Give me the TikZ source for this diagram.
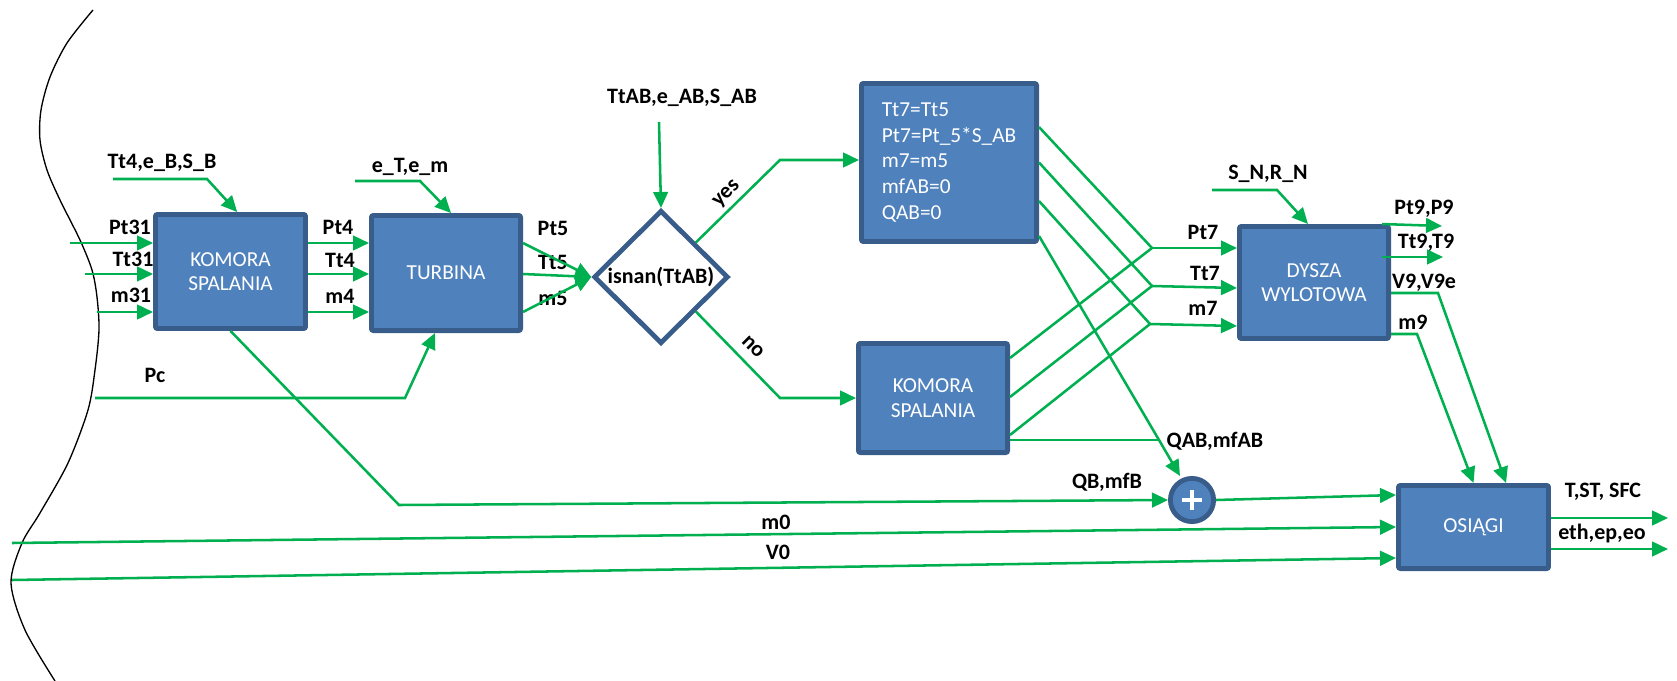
\documentclass[tikz,border=0pt]{standalone}
\usepackage{fontspec}
\setmainfont{Carlito}
\usetikzlibrary{arrows.meta,shapes.geometric}

\definecolor{boxfill}{HTML}{4F81BD}
\definecolor{boxedge}{HTML}{385D8A}
\definecolor{flowgreen}{HTML}{00B050}

\begin{document}
\begin{tikzpicture}[
  x=0.75pt,y=-0.75pt,
  block/.style={draw=boxedge,fill=boxfill,line width=3.6pt,rounded corners=1.5pt,
    text=white,font=\fontsize{16}{18.5}\selectfont,align=center,inner sep=0pt},
  cond/.style={diamond,draw=boxedge,fill=white,line width=3.6pt,aspect=1,inner sep=0pt,
    minimum width=101pt,minimum height=100pt,font=\fontsize{16.5}{19}\selectfont\bfseries},
  summer/.style={circle,draw=boxedge,fill=boxfill,line width=3.6pt,minimum size=32.4pt,inner sep=0pt},
  flow/.style={draw=flowgreen,line width=1.9pt,-{Triangle[length=12pt,width=11pt]}},
  link/.style={draw=flowgreen,line width=1.9pt},
  lbl/.style={font=\fontsize{16.5}{19}\selectfont\bfseries,inner sep=0pt},
  boundary/.style={line width=1pt}
]
  \useasboundingbox (0,0) rectangle (1677,681);

  % engine boundary
  \draw[boundary] plot[smooth] coordinates {(93,10) (67,43) (50,77) (41,110) (40,140)
    (47,170) (60,200) (80,240) (92,270) (97,297) (99,330) (95,370) (88,410) (68,463)
    (40,513) (22,543) (11,583) (25,630) (55,681)};

  % blocks
  \node[block,minimum width=112.6pt,minimum height=85.6pt] (kom1) at (230.5,271.5) {KOMORA\\SPALANIA};
  \node[block,minimum width=111.9pt,minimum height=86.4pt] (turb) at (446,273) {TURBINA};
  \node[cond] (dec) at (661,277) {isnan(TtAB)};
  \node[block,minimum width=131.4pt,minimum height=118.6pt,align=left,
    font=\fontsize{16}{19.2}\selectfont] (up) at (949,162.5)
    {Tt7=Tt5\\Pt7=Pt\_5*S\_AB\\m7=m5\\mfAB=0\\QAB=0};
  \node[block,minimum width=111.9pt,minimum height=81.9pt] (kom2) at (933,398) {KOMORA\\SPALANIA};
  \node[block,minimum width=111.9pt,minimum height=84.1pt] (dysza) at (1314,282.5) {DYSZA\\WYLOTOWA};
  \node[block,minimum width=112.6pt,minimum height=62.4pt] (osiagi) at (1473.5,527) {OSIĄGI};
  \node[summer] (plus) at (1192,500) {};
  \draw[white,line width=3pt] ([xshift=-7.5pt]plus.center) -- ([xshift=7.5pt]plus.center);
  \draw[white,line width=3pt] ([yshift=-7.5pt]plus.center) -- ([yshift=7.5pt]plus.center);

  % labels
  \node[lbl] (lPt31) at (130,227) {Pt31};
  \node[lbl] (lTt31) at (133,259) {Tt31};
  \node[lbl] (lm31) at (131,295) {m31};
  \node[lbl] (lInB) at (162,163) {Tt4,e\_B,S\_B};
  \node[lbl] (lPt4) at (338,227) {Pt4};
  \node[lbl] (lTt4) at (340,260) {Tt4};
  \node[lbl] (lm4) at (340,296) {m4};
  \node[lbl] (lInT) at (410,167) {e\_T,e\_m};
  \node[lbl] (lPc) at (155,375) {Pc};
  \node[lbl] (lPt5) at (553,228) {Pt5};
  \node[lbl] (lTt5) at (553,262) {Tt5};
  \node[lbl] (lm5) at (553,298) {m5};
  \node[lbl] (lInAB) at (682,98) {TtAB,e\_AB,S\_AB};
  \node[lbl,rotate=45] (lyes) at (727,194) {yes};
  \node[lbl,rotate=-45] (lno) at (753,347) {no};
  \node[lbl] (lPt7) at (1203,232) {Pt7};
  \node[lbl] (lTt7) at (1205,273) {Tt7};
  \node[lbl] (lm7) at (1203,308) {m7};
  \node[lbl] (lInN) at (1268,174) {S\_N,R\_N};
  \node[lbl] (lPt9) at (1424,209) {Pt9,P9};
  \node[lbl] (lTt9) at (1426,243) {Tt9,T9};
  \node[lbl] (lV9) at (1424,283) {V9,V9e};
  \node[lbl] (lm9) at (1413,322) {m9};
  \node[lbl] (lQAB) at (1215,441) {QAB,mfAB};
  \node[lbl] (lQB) at (1107,482) {QB,mfB};
  \node[lbl] (lm0) at (776,522) {m0};
  \node[lbl] (lV0) at (778,552) {V0};
  \node[lbl] (lT) at (1603,492) {T,ST, SFC};
  \node[lbl] (leth) at (1602,534) {eth,ep,eo};

  % free ends and bends
  \coordinate (inA) at (70,243);
  \coordinate (inB) at (85,274);
  \coordinate (inC) at (97,312);
  \coordinate (bS) at (113,179);
  \coordinate (bB) at (207,179);
  \coordinate (tS) at (355,181);
  \coordinate (tB) at (420,181);
  \coordinate (pcS) at (95,398);
  \coordinate (pcB) at (405,398);
  \coordinate (qbB) at (399,505);
  \coordinate (abS) at (659,122);
  \coordinate (yesB) at (780,160);
  \coordinate (noB) at (780,398);
  \coordinate (jPt) at (1152,248);
  \coordinate (jTt) at (1152,286);
  \coordinate (jm) at (1150,324);
  \coordinate (jq) at (1159,440);
  \coordinate (nS) at (1212,190);
  \coordinate (nB) at (1277,190);
  \coordinate (pt9E) at (1442,226);
  \coordinate (tt9E) at (1443,257);
  \coordinate (v9B) at (1438,293);
  \coordinate (m9B) at (1417,334);
  \coordinate (m0S) at (12,543);
  \coordinate (v0S) at (12,580);
  \coordinate (tE) at (1668,518);
  \coordinate (ethE) at (1668,549);

  % combustor and turbine
  \draw[flow] (inA) -- (inA -| kom1.west);
  \draw[flow] (inB) -- (inB -| kom1.west);
  \draw[flow] (inC) -- (inC -| kom1.west);
  \draw[flow] (bS) -- (bB) -- ([xshift=5pt]kom1.north);
  \draw[flow] (kom1.east |- inA) -- (turb.west |- inA);
  \draw[flow] (kom1.east |- inB) -- (turb.west |- inB);
  \draw[flow] (kom1.east |- inC) -- (turb.west |- inC);
  \draw[flow] (tS) -- (tB) -- ([xshift=3.75pt]turb.north);
  \draw[flow] (pcS) -- (pcB) -- ([xshift=-8.25pt]turb.south);
  \draw[flow] (kom1.south) -- (qbB) -- (plus.west);

  % afterburner choice
  \draw[flow] (turb.east |- inA) -- (dec.west);
  \draw[flow] (turb.east |- inB) -- (dec.west);
  \draw[flow] (turb.east |- inC) -- (dec.west);
  \draw[flow] (abS) -- (dec.north);
  \draw[flow] (dec.north east) -- (yesB) -- (yesB -| up.west);
  \draw[flow] (dec.south east) -- (noB) -- (noB -| kom2.west);

  % into the nozzle
  \draw[link] ([yshift=26.6pt]up.east) -- (jPt);
  \draw[link] (up.east) -- (jTt);
  \draw[link] ([yshift=-28.9pt]up.east) -- (jm);
  \draw[flow] ([yshift=-55.1pt]up.east) -- (jq) -- ([xshift=-9pt]plus.north);
  \draw[link] ([yshift=30pt]kom2.east) -- (jPt);
  \draw[link] ([yshift=0.75pt]kom2.east) -- (jTt);
  \draw[link] ([yshift=-27.75pt]kom2.east) -- (jm);
  \draw[link] ([yshift=-31.5pt]kom2.east) -- (jq);
  \draw[flow] (jPt) -- (jPt -| dysza.west);
  \draw[flow] (jTt) -- ([yshift=-1.5pt]jTt -| dysza.west);
  \draw[flow] (jm) -- ([yshift=-1.5pt]jm -| dysza.west);
  \draw[flow] (nS) -- (nB) -- ([xshift=-4.5pt]dysza.north);

  % nozzle outputs
  \draw[flow] ([xshift=-6.75pt]dysza.north east) -- (pt9E);
  \draw[flow] ([xshift=-6.75pt]dysza.east |- tt9E) -- (tt9E);
  \draw[flow] (dysza.east |- v9B) -- (v9B) -- ([xshift=24.4pt]osiagi.north);
  \draw[flow] (dysza.east |- m9B) -- (m9B) -- (osiagi.north);

  % performance
  \draw[flow] (plus.east) -- ([yshift=24pt]osiagi.west);
  \draw[flow] (m0S) -- (osiagi.west);
  \draw[flow] (v0S) -- ([yshift=-23.25pt]osiagi.west);
  \draw[flow] (osiagi.east |- tE) -- (tE);
  \draw[flow] (osiagi.east |- ethE) -- (ethE);
\end{tikzpicture}
\end{document}
